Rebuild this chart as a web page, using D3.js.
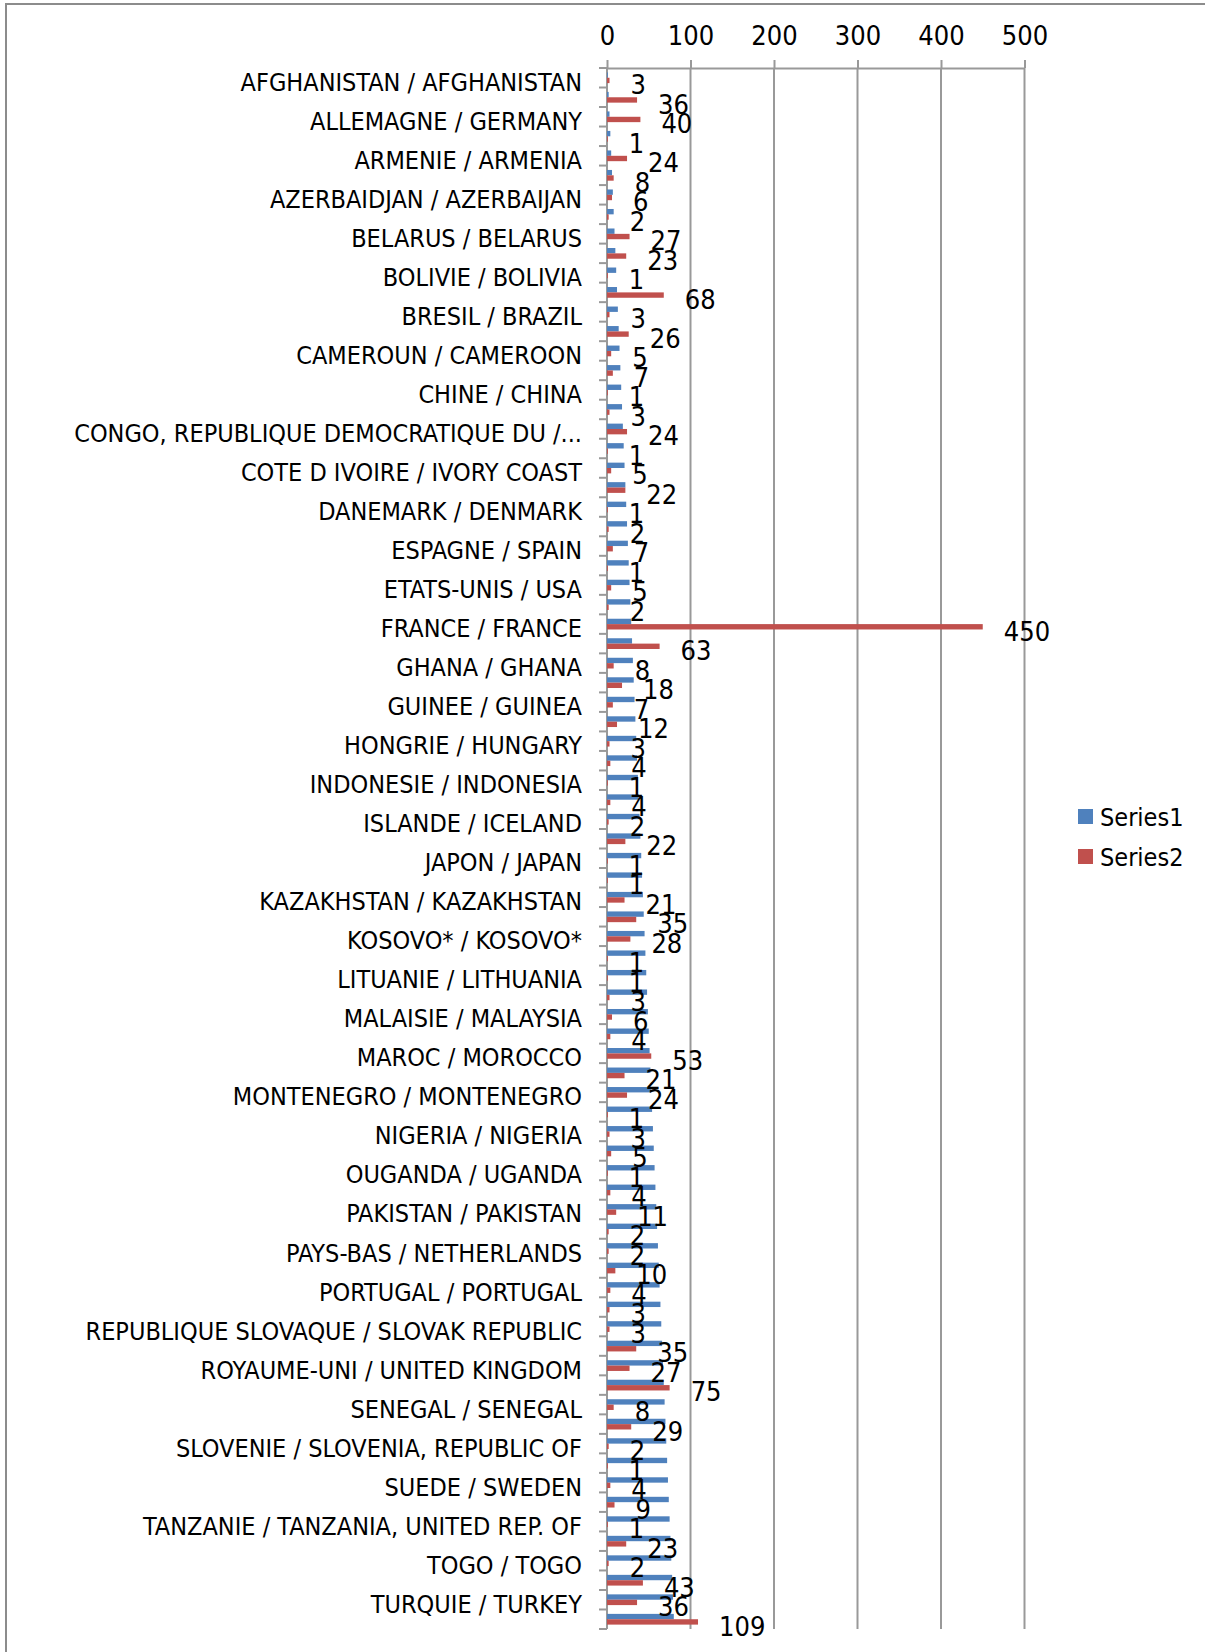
<!DOCTYPE html>
<html>
<head>
  <meta charset="utf-8">
  <script src="https://d3js.org/d3.v7.min.js"></script>
  <style>
    body { margin: 0; background: #fff; }
    text {
      font-family: "Liberation Sans Narrow", "DejaVu Sans Condensed", sans-serif;
      font-stretch: condensed;
      fill: #000;
    }
  </style>
</head>
<body>
<script>
  // categories, top to bottom (only every other one gets a visible label, like the original)
  const categories = [
    "AFGHANISTAN / AFGHANISTAN", "ALGERIE / ALGERIA", "ALLEMAGNE / GERMANY", "ARGENTINE / ARGENTINA",
    "ARMENIE / ARMENIA", "AUTRICHE / AUSTRIA", "AZERBAIDJAN / AZERBAIJAN", "BANGLADESH / BANGLADESH",
    "BELARUS / BELARUS", "BENIN / BENIN", "BOLIVIE / BOLIVIA", "BOSNIE-HERZEGOVINE / BOSNIA AND HERZEGOVINA",
    "BRESIL / BRAZIL", "BURKINA FASO / BURKINA FASO", "CAMEROUN / CAMEROON", "CANADA / CANADA",
    "CHINE / CHINA", "COLOMBIE / COLOMBIA", "CONGO, REPUBLIQUE DEMOCRATIQUE DU /...", "COREE, REPUBLIQUE DE / KOREA",
    "COTE D IVOIRE / IVORY COAST", "CROATIE / CROATIA", "DANEMARK / DENMARK", "EGYPTE / EGYPT",
    "ESPAGNE / SPAIN", "ESTONIE / ESTONIA", "ETATS-UNIS / USA", "FINLANDE / FINLAND",
    "FRANCE / FRANCE", "GEORGIE / GEORGIA", "GHANA / GHANA", "GRECE / GREECE",
    "GUINEE / GUINEA", "HAITI / HAITI", "HONGRIE / HUNGARY", "INDE / INDIA",
    "INDONESIE / INDONESIA", "IRAN / IRAN", "ISLANDE / ICELAND", "ITALIE / ITALY",
    "JAPON / JAPAN", "JORDANIE / JORDAN", "KAZAKHSTAN / KAZAKHSTAN", "KENYA / KENYA",
    "KOSOVO* / KOSOVO*", "LETTONIE / LATVIA", "LITUANIE / LITHUANIA", "MADAGASCAR / MADAGASCAR",
    "MALAISIE / MALAYSIA", "MALI / MALI", "MAROC / MOROCCO", "MOLDAVIE / MOLDOVA",
    "MONTENEGRO / MONTENEGRO", "NIGER / NIGER", "NIGERIA / NIGERIA", "NORVEGE / NORWAY",
    "OUGANDA / UGANDA", "OUZBEKISTAN / UZBEKISTAN", "PAKISTAN / PAKISTAN", "PALESTINE / PALESTINE",
    "PAYS-BAS / NETHERLANDS", "POLOGNE / POLAND", "PORTUGAL / PORTUGAL", "REPUBLIQUE CENTRAFRICAINE / CAR",
    "REPUBLIQUE SLOVAQUE / SLOVAK REPUBLIC", "ROUMANIE / ROMANIA", "ROYAUME-UNI / UNITED KINGDOM", "RUSSIE / RUSSIA",
    "SENEGAL / SENEGAL", "SERBIE / SERBIA", "SLOVENIE / SLOVENIA, REPUBLIC OF", "SRI LANKA / SRI LANKA",
    "SUEDE / SWEDEN", "SUISSE / SWITZERLAND", "TANZANIE / TANZANIA, UNITED REP. OF", "TCHEQUIE / CZECH REPUBLIC",
    "TOGO / TOGO", "TUNISIE / TUNISIA", "TURQUIE / TURKEY", "UKRAINE / UKRAINE"
  ];

  const series1 = [
     1,  2,  3,  4,  5,  6,  7,  8,  9, 10, 11, 12, 13, 14, 15, 16, 17, 18, 19, 20,
    21, 22, 23, 24, 25, 26, 27, 28, 29, 30, 31, 32, 33, 34, 35, 36, 37, 38, 39, 40,
    41, 42, 43, 44, 45, 46, 47, 48, 49, 50, 51, 52, 53, 54, 55, 56, 57, 58, 59, 60,
    61, 62, 63, 64, 65, 66, 67, 68, 69, 70, 71, 72, 73, 74, 75, 76, 77, 78, 79, 80
  ];

  const series2 = [
     3, 36, 40,  1, 24,  8,  6,  2, 27, 23,  1, 68,  3, 26,  5,  7,  1,  3, 24,  1,
     5, 22,  1,  2,  7,  1,  5,  2, 450, 63,  8, 18,  7, 12,  3,  4,  1,  4,  2, 22,
     1,  1, 21, 35, 28,  1,  1,  3,  6,  4, 53, 21, 24,  1,  3,  5,  1,  4, 11,  2,
     2, 10,  4,  3,  3, 35, 27, 75,  8, 29,  2,  1,  4,  9,  1, 23,  2, 43, 36, 109
  ];

  const xTicks = [0, 100, 200, 300, 400, 500];
  const seriesNames = ["Series1", "Series2"];
  const colors = ["#4F81BD", "#C0504D"];

  const W = 1205, H = 1652;
  const plot = {left: 607, right: 1024.5, top: 68, bottom: 1629};
  const fontSize = 27;      // axis numbers and data labels
  const labelSize = 25;     // category names and legend

  const svg = d3.select("body").append("svg")
    .attr("width", W)
    .attr("height", H);

  svg.append("rect").attr("width", W).attr("height", H).attr("fill", "#fff");

  // chart area border (runs off the right and bottom of the picture)
  svg.append("rect")
    .attr("x", 6).attr("y", 4)
    .attr("width", W + 20).attr("height", H + 20)
    .attr("fill", "none")
    .attr("stroke", "#8c8c8c")
    .attr("stroke-width", 2);

  const x = d3.scaleLinear()
    .domain([0, 500])
    .range([plot.left, plot.right]);

  const y = d3.scaleBand()
    .domain(d3.range(categories.length))
    .range([plot.top, plot.bottom])
    .paddingInner(0.45)
    .paddingOuter(0.225);

  const sub = d3.scaleBand()
    .domain(seriesNames)
    .range([0, y.bandwidth()]);

  // vertical gridlines
  svg.append("g")
    .selectAll("line")
    .data(xTicks.slice(1))
    .join("line")
    .attr("x1", d => x(d)).attr("x2", d => x(d))
    .attr("y1", plot.top).attr("y2", plot.bottom)
    .attr("stroke", "#999")
    .attr("stroke-width", 2);

  // top value axis
  const xAxis = svg.append("g")
    .attr("transform", `translate(0,${plot.top})`)
    .call(d3.axisTop(x).tickValues(xTicks).tickSize(8).tickSizeOuter(0).tickPadding(15));
  xAxis.selectAll("path, line").attr("stroke", "#999").attr("stroke-width", 2);
  xAxis.selectAll("text")
    .attr("font-size", fontSize)
    .attr("fill", "#000");
  xAxis.attr("font-family", null);

  // category axis: line + tick marks at band boundaries
  const step = y.step();
  const start = plot.top;
  const bounds = d3.range(categories.length + 1).map(i => start + i * step);
  const cat = svg.append("g");
  cat.append("line")
    .attr("x1", x(0)).attr("x2", x(0))
    .attr("y1", plot.top).attr("y2", plot.bottom)
    .attr("stroke", "#999").attr("stroke-width", 2);
  cat.selectAll(".tick")
    .data(bounds)
    .join("line")
    .attr("class", "tick")
    .attr("x1", x(0) - 8).attr("x2", x(0))
    .attr("y1", d => d).attr("y2", d => d)
    .attr("stroke", "#999").attr("stroke-width", 2);

  cat.selectAll(".label")
    .data(categories.filter((d, i) => i % 2 === 0))
    .join("text")
    .attr("class", "label")
    .attr("x", 582)
    .attr("y", (d, i) => y(i * 2) + y.bandwidth() / 2 + 4)
    .attr("dy", "0.36em")
    .attr("text-anchor", "end")
    .attr("font-size", labelSize)
    .text(d => d);

  // bars
  const bars = svg.append("g");
  [series1, series2].forEach((vals, s) => {
    bars.append("g")
      .selectAll("rect")
      .data(vals)
      .join("rect")
      .attr("x", x(0))
      .attr("y", (d, i) => y(i) + sub(seriesNames[s]))
      .attr("width", d => x(d) - x(0))
      .attr("height", sub.bandwidth())
      .attr("fill", colors[s]);
  });

  // data labels for Series2
  svg.append("g")
    .selectAll("text")
    .data(series2)
    .join("text")
    .attr("x", d => x(d) + 21)
    .attr("y", (d, i) => y(i) + sub("Series2") + sub.bandwidth() / 2 + 4)
    .attr("dy", "0.36em")
    .attr("font-size", fontSize)
    .text(d => d);

  // legend
  const legend = svg.append("g").attr("transform", "translate(1078,809)");
  seriesNames.forEach((name, i) => {
    const g = legend.append("g").attr("transform", `translate(0,${i * 40})`);
    g.append("rect").attr("width", 15).attr("height", 15).attr("fill", colors[i]);
    g.append("text")
      .attr("x", 22).attr("y", 7.5)
      .attr("dy", "0.36em")
      .attr("font-size", labelSize)
      .text(name);
  });
</script>
</body>
</html>
